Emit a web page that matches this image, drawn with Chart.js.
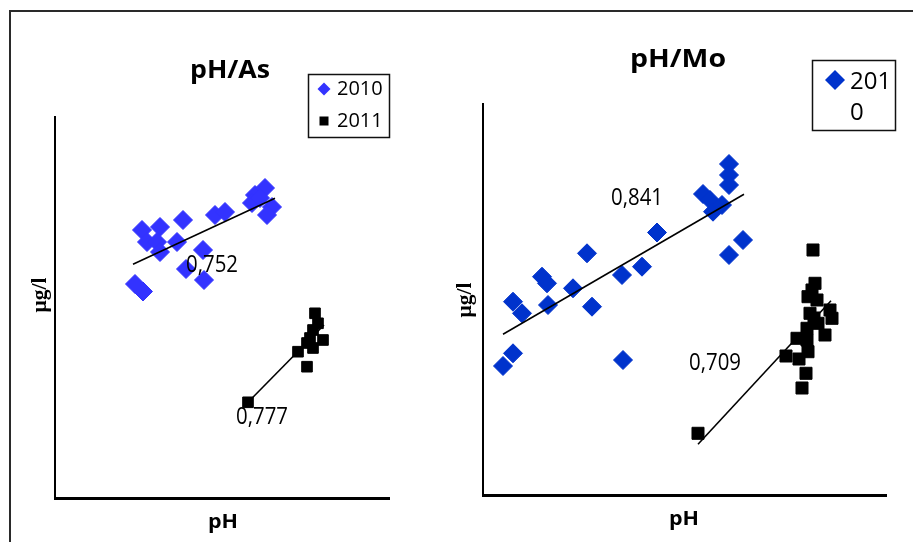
<!DOCTYPE html>
<html>
<head>
<meta charset="utf-8">
<script src="https://cdn.jsdelivr.net/npm/chart.js@4.4.1/dist/chart.umd.min.js"></script>
<style>
  html, body { margin: 0; padding: 0; background: #fff; overflow: hidden; }
  body { width: 913px; height: 542px; position: relative; }
  #frame { position: absolute; left: 9px; top: 10px; width: 1000px; height: 1000px; border: 2px solid #2a2a2a; }
  #left { position: absolute; left: 0; top: 0; }
  #right { position: absolute; left: 455px; top: 0; }
</style>
</head>
<body>
<div id="frame"></div>
<div id="left"><canvas id="chartAs" width="455" height="542"></canvas></div>
<div id="right"><canvas id="chartMo" width="458" height="542"></canvas></div>
<script>
// pH / As
const asPH2010 = [6.87, 7.05, 6.92, 7.02, 7.05, 7.22, 7.28, 7.60, 7.70, 8.00, 8.10, 7.97, 8.05, 8.17, 8.12, 7.48, 7.31, 7.49, 6.80, 6.88];
const as2010   = [26.8, 27.1, 25.6, 25.6, 24.6, 25.6, 27.8, 28.3, 28.6, 30.3, 31.0, 29.5, 30.0, 29.1, 28.3, 24.8, 22.9, 21.8, 21.4, 20.65];
const asPH2011 = [7.93, 8.43, 8.52, 8.60, 8.63, 8.58, 8.55, 8.68, 8.52, 8.58];
const as2011   = [9.57, 14.63, 13.13, 18.47, 17.47, 16.80, 16.00, 15.80, 15.50, 15.00];
const asFitPH2010 = [6.78, 8.20];
const asFit2010   = [23.37, 29.97];
const asFitPH2011 = [7.93, 8.69];
const asFit2011   = [9.57, 17.30];
const asR2 = ['0,752', '0,777'];

// pH / Mo
const moPH2010 = [6.20, 6.30, 6.30, 6.39, 6.59, 6.64, 6.65, 6.90, 7.04, 7.09, 7.39, 7.40, 7.59, 7.74, 8.20, 8.27, 8.30, 8.39, 8.46, 8.46, 8.46, 8.60, 8.46];
const mo2010   = [12.9, 14.17, 19.33, 18.17, 21.83, 21.17, 19.0, 20.67, 24.17, 18.83, 22.0, 13.5, 22.83, 26.25, 30.1, 29.5, 28.33, 29.0, 33.1, 32.0, 31.0, 25.5, 24.0];
const moPH2011 = [8.15, 9.03, 9.16, 9.23, 9.19, 9.30, 9.32, 9.25, 9.34, 9.27, 9.35, 9.24, 9.14, 9.24, 9.25, 9.42, 9.47, 9.49, 9.29, 9.31];
const mo2011   = [6.17, 13.9, 13.6, 12.17, 10.7, 24.5, 21.17, 19.83, 19.5, 18.17, 17.17, 16.67, 15.67, 15.5, 14.33, 16.0, 18.5, 17.67, 20.5, 17.7];
const moFitPH2010 = [6.20, 8.61];
const moFit2010   = [16.07, 30.07];
const moFitPH2011 = [8.15, 9.48];
const moFit2011   = [5.07, 19.43];
const moR2 = ['0,841', '0,709'];

const years = ['2010', '2011'];

const toPoints = (xs, ys) => xs.map((x, i) => ({ x: x, y: ys[i] }));

// text centred on (x, y), optionally squeezed/stretched to a given width
function drawText(ctx, text, x, y, font, width, rotate, align) {
  ctx.save();
  ctx.translate(x, y);
  if (rotate) ctx.rotate(-Math.PI / 2);
  ctx.font = font;
  if (width) ctx.scale(width / ctx.measureText(text).width, 1);
  ctx.fillStyle = '#000';
  ctx.textAlign = align || 'center';
  ctx.textBaseline = 'middle';
  ctx.fillText(text, 0, 0);
  ctx.restore();
}

function diamond(ctx, x, y, r, color) {
  ctx.beginPath();
  ctx.moveTo(x - r, y);
  ctx.lineTo(x, y - r);
  ctx.lineTo(x + r, y);
  ctx.lineTo(x, y + r);
  ctx.closePath();
  ctx.fillStyle = color;
  ctx.fill();
}

// axes, titles, legend box and R² labels
const panelDecor = {
  id: 'panelDecor',
  afterDraw(chart, args, o) {
    const ctx = chart.ctx;
    const a = chart.chartArea;
    ctx.save();
    ctx.strokeStyle = '#000';
    ctx.lineWidth = 2;
    ctx.beginPath();
    ctx.moveTo(a.left, a.top);
    ctx.lineTo(a.left, a.bottom);
    ctx.stroke();
    ctx.lineWidth = 3;
    ctx.beginPath();
    ctx.moveTo(a.left - 1, a.bottom + 0.5);
    ctx.lineTo(a.right, a.bottom + 0.5);
    ctx.stroke();

    drawText(ctx, o.title, o.titleAt[0], o.titleAt[1], 'bold 25px "Open Sans"', o.titleWidth);
    drawText(ctx, 'pH', o.xTitleAt[0], o.xTitleAt[1], 'bold 20px "Open Sans"', 30);
    drawText(ctx, 'µg/l', o.yTitleAt[0], o.yTitleAt[1], 'bold 21px "Liberation Serif"', 35, true);

    o.labels.forEach((l, i) => {
      drawText(ctx, l, o.labelAt[i][0], o.labelAt[i][1], '23px "Open Sans"', 52);
    });

    // legend
    const b = o.legendBox;
    ctx.lineWidth = 1.5;
    ctx.strokeStyle = '#111';
    ctx.strokeRect(b[0] + 0.5, b[1] + 0.5, b[2], b[3]);
    o.legendItems.forEach(it => {
      if (it.marker === 'diamond') diamond(ctx, it.at[0], it.at[1], it.size, it.color);
      else if (it.marker === 'square') {
        ctx.fillStyle = it.color;
        ctx.fillRect(it.at[0] - it.size, it.at[1] - it.size, it.size * 2, it.size * 2);
      }
      it.text.forEach((t, j) => {
        drawText(ctx, t, it.textAt[0], it.textAt[1] + j * it.lineGap, it.font, null, false, 'left');
      });
    });
    ctx.restore();
  }
};

function scatterSet(xs, ys, color, style, radius) {
  return {
    data: toPoints(xs, ys),
    pointStyle: style,
    pointRadius: radius,
    pointBackgroundColor: color,
    pointBorderColor: color,
    pointBorderWidth: 1,
    showLine: false,
    order: 1
  };
}

function fitSet(xs, ys) {
  return {
    data: toPoints(xs, ys),
    showLine: true,
    borderColor: '#000',
    borderWidth: 1.6,
    pointRadius: 0,
    fill: false,
    order: 0
  };
}

function makePanel(id, sets, ranges, padding, decor) {
  return new Chart(document.getElementById(id), {
    type: 'scatter',
    data: { datasets: sets },
    options: {
      responsive: false,
      animation: false,
      layout: { padding: padding },
      scales: {
        x: { type: 'linear', display: false, min: ranges[0], max: ranges[1] },
        y: { type: 'linear', display: false, min: ranges[2], max: ranges[3] }
      },
      plugins: {
        legend: { display: false },
        tooltip: { enabled: false },
        panelDecor: decor
      }
    },
    plugins: [panelDecor]
  });
}

makePanel('chartAs', [
  fitSet(asFitPH2010, asFit2010),
  fitSet(asFitPH2011, asFit2011),
  scatterSet(asPH2010, as2010, '#3333FF', 'rectRot', 9.5),
  scatterSet(asPH2011, as2011, '#000000', 'rect', 7.5)
], [6, 9.35, 0, 38.2], { left: 55, top: 116, right: 65, bottom: 44 }, {
  title: 'pH/As', titleAt: [230, 71], titleWidth: 80,
  xTitleAt: [223, 522], yTitleAt: [41, 295],
  labels: asR2, labelAt: [[212, 265], [262, 417]],
  legendBox: [308, 74, 81, 63],
  legendItems: [
    { marker: 'diamond', at: [324, 89], size: 6.5, color: '#3333FF', text: [years[0]], textAt: [337, 89], lineGap: 0, font: '20px "Open Sans"' },
    { marker: 'square', at: [324, 121], size: 4.5, color: '#000', text: [years[1]], textAt: [337, 121], lineGap: 0, font: '20px "Open Sans"' }
  ]
});

makePanel('chartMo', [
  fitSet(moFitPH2010, moFit2010),
  fitSet(moFitPH2011, moFit2011),
  scatterSet(moPH2010, mo2010, '#0033CC', 'rectRot', 9.5),
  scatterSet(moPH2011, mo2011, '#000000', 'rect', 8.5)
], [6, 10.04, 0, 39.2], { left: 28, top: 103, right: 26, bottom: 47 }, {
  title: 'pH/Mo', titleAt: [223, 60], titleWidth: 96,
  xTitleAt: [229, 519], yTitleAt: [11, 300],
  labels: moR2, labelAt: [[182, 198], [260, 363]],
  legendBox: [357, 60, 83, 70],
  legendItems: [
    { marker: 'diamond', at: [380, 80], size: 10, color: '#0033CC', text: [years[0].slice(0, 3), years[0].slice(3)], textAt: [395, 82], lineGap: 31, font: '24px "Open Sans"' }
  ]
});
</script>
</body>
</html>
